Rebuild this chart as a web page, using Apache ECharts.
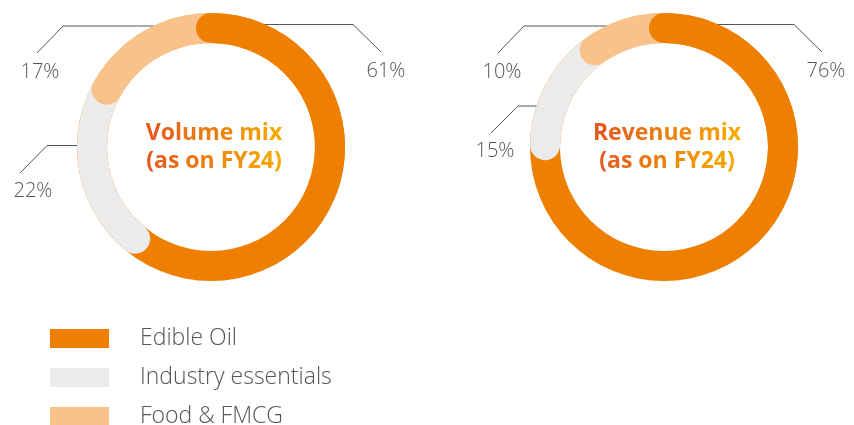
<!DOCTYPE html>
<html>
<head>
<meta charset="utf-8">
<script src="https://cdn.jsdelivr.net/npm/echarts@6/dist/echarts.min.js"></script>
<style>
  html, body { margin: 0; padding: 0; background: #fff; }
  #chart { width: 854px; height: 425px; }
</style>
</head>
<body>
<div id="chart"></div>
<script>
const categories = ['Edible Oil', 'Industry essentials', 'Food & FMCG']
const volumeMix = [61, 22, 17]
const revenueMix = [76, 15, 10]
const titleLines = [
  ['Volume mix', '(as on FY24)'],
  ['Revenue mix', '(as on FY24)']
]

const colors = ['#ef7f00', '#ebebeb', '#f9c28b']
const centers = [[211, 147], [664, 147]]
const labelFont = '"Open Sans", "DejaVu Sans", sans-serif'

// leader lines + label anchors, one entry per slice (same order as categories)
const leaders = [
  [
    { pts: [[250, 24.5], [353, 24.5], [381, 52]], at: [386, 71] },
    { pts: [[101, 145.5], [47, 145.5], [20, 173]], at: [33, 191] },
    { pts: [[168, 26], [63, 26], [37, 53]], at: [40, 72] }
  ],
  [
    { pts: [[690, 24.5], [794, 24.5], [822, 52]], at: [826, 71] },
    { pts: [[543, 106], [518, 106], [491, 133]], at: [495, 151] },
    { pts: [[628, 26], [524, 26], [498, 53]], at: [502, 72] }
  ]
]

const chart = echarts.init(document.getElementById('chart'))

function mix(a, b, t) {
  return Math.round(a + (b - a) * t)
}

// per-character colours to fake the orange -> amber gradient of the centre titles
function gradientTitle(lines) {
  const from = [228, 90, 28]
  const to = [247, 170, 0]
  const rich = {}
  let n = 0
  const text = lines.map(line => {
    const chars = line.split('')
    return chars.map((ch, i) => {
      const t = chars.length > 1 ? i / (chars.length - 1) : 0
      const key = 'c' + n++
      rich[key] = {
        fill: `rgb(${mix(from[0], to[0], t)},${mix(from[1], to[1], t)},${mix(from[2], to[2], t)})`,
        fontSize: 23,
        fontWeight: 'bold',
        fontFamily: '"Open Sans", Lato, sans-serif',
        lineHeight: 28
      }
      return '{' + key + '|' + ch + '}'
    }).join('')
  }).join('\n')
  return { text, rich }
}

function donutSeries(values, k) {
  const total = values.reduce((a, b) => a + b, 0)
  const common = {
    type: 'bar',
    coordinateSystem: 'polar',
    polarIndex: k,
    barGap: '-100%',
    barCategoryGap: '0%',
    silent: true
  }
  return [
    // full ring in the first colour
    { ...common, name: categories[0], data: [total], itemStyle: { color: colors[0] } },
    // second slice, round cap pushes back into the first
    { ...common, name: '_off1', stack: 'b' + k, data: [values[0]], itemStyle: { color: 'transparent' } },
    { ...common, name: categories[1], stack: 'b' + k, data: [values[1] + values[2]], roundCap: true, itemStyle: { color: colors[1] } },
    // third slice
    { ...common, name: '_off2', stack: 'c' + k, data: [values[0] + values[1]], itemStyle: { color: 'transparent' } },
    { ...common, name: categories[2], stack: 'c' + k, data: [values[2]], roundCap: true, itemStyle: { color: colors[2] } },
    // start of first slice on top again, its cap overlaps the last one
    { ...common, name: categories[0], data: [values[0] / 2], roundCap: true, itemStyle: { color: colors[0] } }
  ]
}

const mixes = [volumeMix, revenueMix]
const graphics = []
mixes.forEach((values, k) => {
  values.forEach((v, i) => {
    const l = leaders[k][i]
    graphics.push({
      type: 'polyline',
      shape: { points: l.pts },
      style: { stroke: '#555', lineWidth: 1, fill: null },
      silent: true
    })
    graphics.push({
      type: 'text',
      x: l.at[0],
      y: l.at[1],
      style: {
        text: v + '%',
        fill: '#555',
        font: '300 20px ' + labelFont,
        textAlign: 'center',
        textVerticalAlign: 'middle'
      }
    })
  })
  const t = gradientTitle(titleLines[k])
  graphics.push({
    type: 'text',
    x: centers[k][0] + 3,
    y: centers[k][1],
    style: {
      text: t.text,
      rich: t.rich,
      textAlign: 'center',
      textVerticalAlign: 'middle'
    }
  })
})

chart.setOption({
  animation: false,
  polar: centers.map(c => ({ center: c, radius: [104, 134] })),
  angleAxis: mixes.map((values, k) => ({
    polarIndex: k,
    type: 'value',
    min: 0,
    max: values.reduce((a, b) => a + b, 0),
    startAngle: 90,
    clockwise: true,
    show: false
  })),
  radiusAxis: mixes.map((values, k) => ({
    polarIndex: k,
    type: 'category',
    data: ['mix'],
    show: false
  })),
  legend: {
    data: categories,
    orient: 'vertical',
    left: 50,
    top: 327,
    height: 140,
    padding: 0,
    icon: 'rect',
    itemWidth: 59,
    itemHeight: 19,
    itemGap: 16,
    selectedMode: false,
    textStyle: {
      color: '#555',
      fontSize: 23,
      fontWeight: 300,
      fontFamily: labelFont,
      padding: [0, 0, 0, 26]
    }
  },
  graphic: graphics,
  series: donutSeries(volumeMix, 0).concat(donutSeries(revenueMix, 1))
})
</script>
</body>
</html>
